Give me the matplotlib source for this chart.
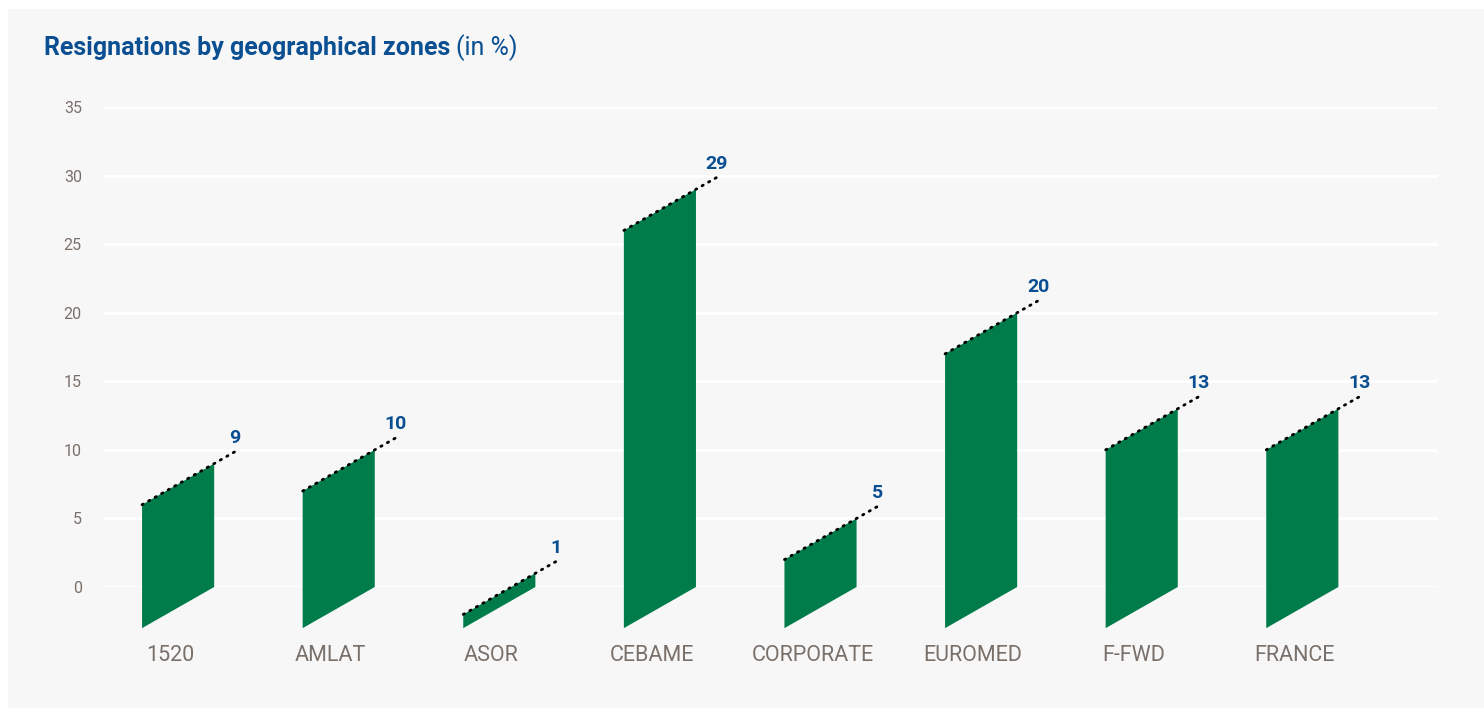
import matplotlib
matplotlib.use('Agg')
import matplotlib.pyplot as plt
from matplotlib.patches import Polygon, Rectangle

zones = ["1520", "AMLAT", "ASOR", "CEBAME", "CORPORATE", "EUROMED", "F-FWD", "FRANCE"]
resignations = [9, 10, 1, 29, 5, 20, 13, 13]
y_ticks = [0, 5, 10, 15, 20, 25, 30, 35]

GREEN = "#007c4a"
BLUE = "#0a4f92"
GREY = "#7a706a"
PANEL = "#f7f7f7"

plt.rcParams['font.family'] = ['Roboto', 'DejaVu Sans']

fig = plt.figure(figsize=(14.84, 7.08), dpi=100)
fig.patch.set_facecolor("white")
# light grey panel behind everything
fig.patches.append(Rectangle((8 / 1484, 0), 1, 1 - 9 / 708, transform=fig.transFigure,
                             facecolor=PANEL, edgecolor="none", zorder=-10))

# axes: x 104..1438 px, y 0 at 587 px, 35 at 107 px
ax = fig.add_axes([104 / 1484, (708 - 587) / 708, (1438 - 104) / 1484, 480 / 708])
ax.set_facecolor("none")
x0 = (104 - 170) / 160.6
ax.set_xlim(x0, x0 + (1438 - 104) / 160.6)
ax.set_ylim(0, 35)
for s in ax.spines.values():
    s.set_visible(False)

for t in y_ticks:
    ax.axhline(t, color="white", lw=2, zorder=0)

ax.set_yticks(y_ticks)
ax.set_yticklabels([str(t) for t in y_ticks], color=GREY, fontsize=11.5)
ax.tick_params(axis='y', length=0, pad=16)
ax.set_xticks([])

left_off = -0.174
width = 0.449
drop = 3.0          # shear of the slanted bars
ext = 21 / 160.6    # dotted extension beyond the bar

for i, (zone, v) in enumerate(zip(zones, resignations)):
    xl = i + left_off
    xr = xl + width
    poly = Polygon([(xl, -drop), (xr, 0), (xr, v), (xl, v - drop)], closed=True,
                   facecolor=GREEN, edgecolor="none", zorder=2, clip_on=False)
    ax.add_patch(poly)
    # dotted line along the top edge
    xe = xr + ext
    ye = v + drop * ext / width
    ax.plot([xl, xe], [v - drop, ye], color="black", lw=2,
            linestyle=(0, (0.5, 2.2)), dash_capstyle="round", zorder=3, clip_on=False)
    ax.text(xe, ye + 0.35, str(v), color=BLUE, fontsize=14, fontweight="bold",
            ha="center", va="bottom", zorder=4)
    ax.text(i, -5.0, zone, color=GREY, fontsize=15.5, ha="center", va="center")

title = fig.text(44 / 1484, 1 - 48 / 708, "Resignations by geographical zones", color=BLUE,
                 fontsize=18, fontweight="bold", ha="left", va="center")
fig.canvas.draw()
bb = title.get_window_extent()
fig.text((bb.x1 + 6) / 1484, 1 - 48 / 708, "(in %)", color=BLUE, fontsize=18,
         ha="left", va="center")

fig.savefig("out.png", dpi=100, facecolor=fig.get_facecolor())
